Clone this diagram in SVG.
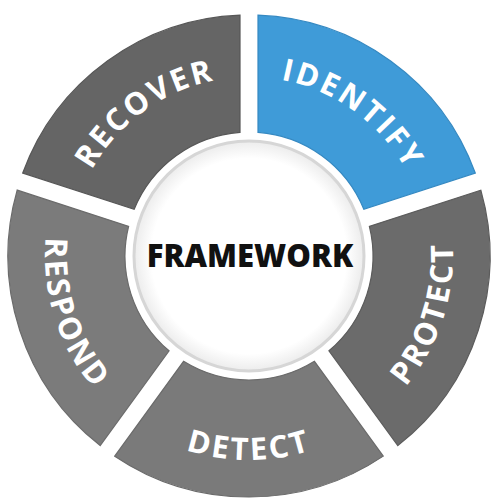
<svg xmlns="http://www.w3.org/2000/svg" xmlns:xlink="http://www.w3.org/1999/xlink" width="504" height="504" viewBox="0 0 504 504">
  <style>
    .lbl { font-family: "Open Sans", "Liberation Sans", sans-serif; font-weight: 700; font-size: 31px; fill: #ffffff; letter-spacing: 2.6px; }
    .seg { stroke-width: 1.2; }
    .title { font-family: "Open Sans", "Liberation Sans", sans-serif; font-weight: 800; font-size: 31px; fill: #111111; }
  </style>
  <defs>
    <path id="seg" d="M 9.0 -240.83 A 241 241 0 0 1 226.27 -82.98 L 114.84 -46.77 A 124 124 0 0 0 9.0 -123.67 Z"/>
    <radialGradient id="hub" cx="0.5" cy="0.5" r="0.5">
      <stop offset="0" stop-color="#ffffff"/>
      <stop offset="0.85" stop-color="#ffffff"/>
      <stop offset="1" stop-color="#ececec"/>
    </radialGradient>
    <path id="pOutIdentify" d="M 103.38 150.20 A 180 180 0 0 1 394.62 361.80"/>
    <path id="pOutRecover" d="M 103.38 361.80 A 180 180 0 0 1 394.62 150.20"/>
    <path id="pInProtect" d="M 185.96 450.02 A 204 204 0 0 0 312.04 61.98"/>
    <path id="pInDetect" d="M 45 256 A 204 204 0 0 0 453 256"/>
    <path id="pInRespond" d="M 185.96 61.98 A 204 204 0 0 0 312.04 450.02"/>
  </defs>
  <rect width="504" height="504" fill="#ffffff"/>

  <g id="identify">
    <use xlink:href="#seg" class="seg" transform="translate(249 256)" fill="#3f9bd8" stroke="#3589c2"/>
    <text class="lbl"><textPath xlink:href="#pOutIdentify" startOffset="50%" text-anchor="middle">IDENTIFY</textPath></text>
  </g>
  <g id="protect">
    <use xlink:href="#seg" class="seg" transform="translate(249 256) rotate(72)" fill="#6b6b6b" stroke="#5c5c5c"/>
    <text class="lbl"><textPath xlink:href="#pInProtect" startOffset="50%" text-anchor="middle">PROTECT</textPath></text>
  </g>
  <g id="detect">
    <use xlink:href="#seg" class="seg" transform="translate(249 256) rotate(144)" fill="#7a7a7a" stroke="#6a6a6a"/>
    <text class="lbl"><textPath xlink:href="#pInDetect" startOffset="50%" text-anchor="middle">DETECT</textPath></text>
  </g>
  <g id="respond">
    <use xlink:href="#seg" class="seg" transform="translate(249 256) rotate(216)" fill="#7b7b7b" stroke="#6b6b6b"/>
    <text class="lbl"><textPath xlink:href="#pInRespond" startOffset="50%" text-anchor="middle">RESPOND</textPath></text>
  </g>
  <g id="recover">
    <use xlink:href="#seg" class="seg" transform="translate(249 256) rotate(288)" fill="#656565" stroke="#575757"/>
    <text class="lbl"><textPath xlink:href="#pOutRecover" startOffset="50%" text-anchor="middle">RECOVER</textPath></text>
  </g>

  <g id="framework">
    <circle cx="249" cy="256" r="115" fill="url(#hub)" stroke="#d6d6d6" stroke-width="3"/>
    <text class="title" x="250" y="267" text-anchor="middle">FRAMEWORK</text>
  </g>
  <g id="connectors"/>
</svg>
